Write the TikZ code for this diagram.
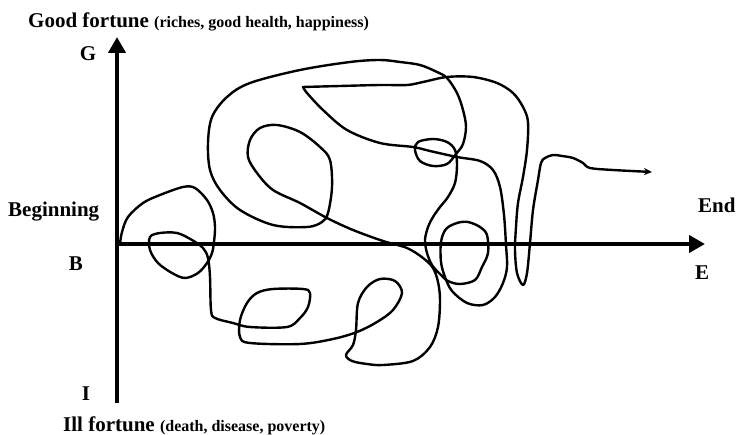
\documentclass[tikz,border=0pt]{standalone}
\usepackage{fontspec}
\setmainfont{Liberation Serif}
\usetikzlibrary{arrows.meta}

\begin{document}
\begin{tikzpicture}[x=1pt, y=-1pt, line join=round, line cap=round,
  axis/.style={line width=4.5pt, line cap=butt, -{Triangle[length=16pt,width=17pt]}},
  tag/.style={inner sep=0pt, font=\fontsize{21}{24}\bfseries\selectfont},
  life/.style={line width=2.4pt, -{Stealth[length=8pt,width=7pt]}}]
  \useasboundingbox (0,0) rectangle (736,435);
  \coordinate (O) at (117,244);
  \coordinate (top) at (117,37);
  \coordinate (bot) at (117,403);
  \coordinate (right) at (705,244);
  \draw[axis] (bot) -- (top);
  \draw[axis] (O) -- (right);
  \node[tag, anchor=base west] (good) at (28,27.5) {Good fortune {\fontsize{16}{19}\selectfont (riches, good health, happiness)}};
  \node[tag, anchor=base] (G) at (88,61) {G};
  \node[tag, anchor=base west] (begin) at (8,217) {Beginning};
  \node[tag, anchor=base] (B) at (76,271) {B};
  \node[tag, anchor=base] (I) at (86,400) {I};
  \node[tag, anchor=base west] (ill) at (63,431) {Ill fortune {\fontsize{16}{19}\selectfont (death, disease, poverty)}};
  \node[tag, anchor=base west] (endtag) at (698,213) {End};
  \node[tag, anchor=base] (E) at (702,280) {E};
  % the path of a life, from B to the end
  \draw[life] plot[smooth, tension=0.55] coordinates {
    (120,244) (122,232) (128,217) (143,203) (160,195) (183,187) (195,188) (207,200) (213,213) (215,227)
    (214,242) (212,253) (207,263) (198,273) (185,278) (172,273) (158,263) (150,250) (150,237) (160,233)
    (177,233) (192,240) (203,248) (208,258) (210,277) (211,310) (215,318) (233,323) (250,327) (287,327)
    (300,318) (308,307) (310,293) (303,289) (273,289) (257,293) (247,303) (240,320) (240,337) (250,343)
    (300,344) (333,339) (357,332) (377,322) (393,310) (402,293) (395,281) (380,279) (367,287) (358,303)
    (356,330) (353,345) (346,355) (352,361) (367,364) (383,365) (413,361) (430,347) (438,327) (440,300)
    (438,282) (433,268) (423,258) (407,248) (383,241) (353,230) (327,218) (300,203) (273,190) (257,173)
    (248,157) (250,140) (260,128) (277,125) (300,132) (320,147) (330,160) (332,187) (328,213) (322,222)
    (307,227) (273,225) (240,210) (220,190) (210,170) (208,143) (212,117) (227,97) (250,83) (300,70)
    (350,62) (380,60) (400,62) (420,65) (437,72) (447,78) (457,93) (463,110) (466,127) (463,144)
    (456,154) (447,164) (433,166) (420,161) (415,150) (418,142) (433,139) (447,142) (455,150) (457,165)
    (455,183) (448,197) (440,207) (433,217) (428,227) (425,240) (427,253) (432,265) (440,274) (448,281)
    (460,284) (475,280) (482,267) (488,253) (487,235) (480,227) (468,222) (457,223) (446,229) (441,242)
    (441,262) (445,277) (452,291) (467,303) (483,305) (495,297) (503,283) (507,267) (506,245) (504,215)
    (500,187) (493,170) (480,161) (457,157) (430,151) (413,147) (380,143) (347,130) (323,110) (307,93)
    (303,87)}
    -- plot[smooth, tension=0.55] coordinates {
    (303,87) (340,86) (380,85) (407,85) (423,82) (447,77) (473,77) (497,83) (513,93) (523,107)
    (528,122) (527,150) (523,177) (518,203) (516,227) (515,250) (517,273) (523,285) (527,273) (530,243)
    (533,210) (538,180) (541,163) (545,158) (553,155) (562,156) (573,158) (583,163) (590,168) (613,170)
    (652,172)};
\end{tikzpicture}
\end{document}
